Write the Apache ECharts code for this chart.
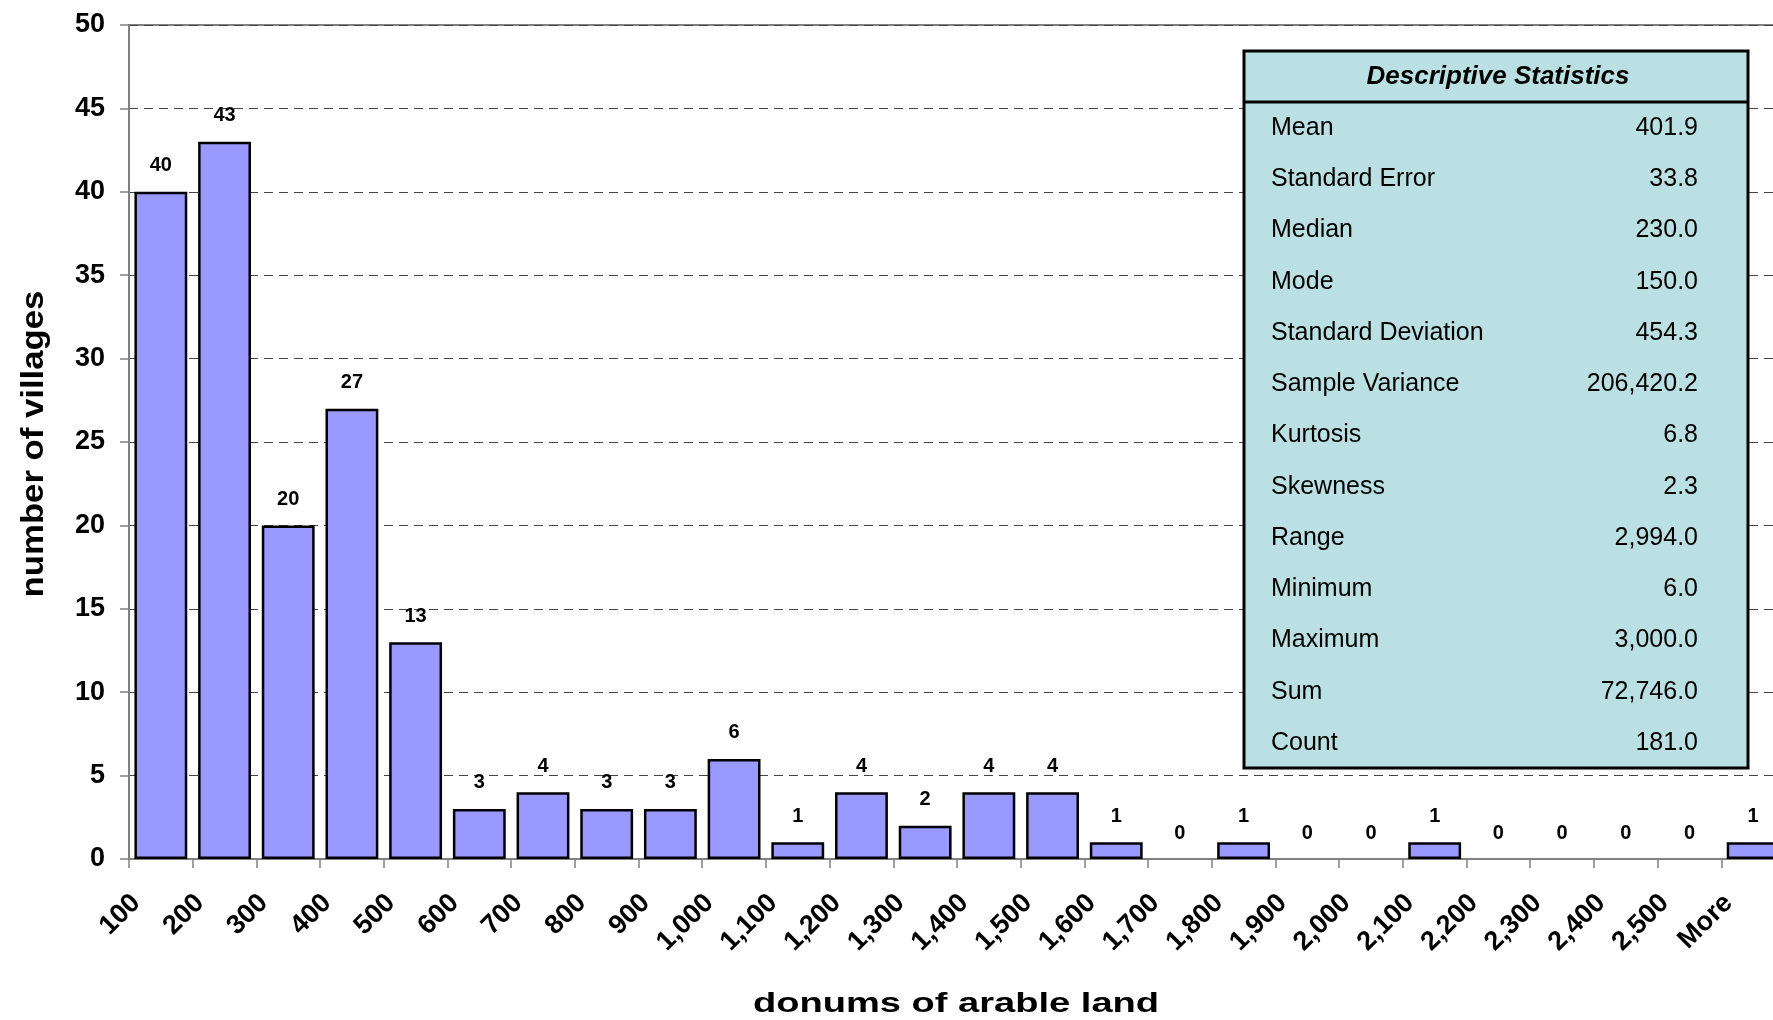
<!DOCTYPE html>
<html>
<head>
<meta charset="utf-8">
<title>donums of arable land</title>
<script src="https://cdn.jsdelivr.net/npm/echarts@6.0.0/dist/echarts.min.js"></script>
<style>
html,body{margin:0;padding:0;background:#fff;}
#main{width:1773px;height:1020px;}
</style>
</head>
<body>
<div id="main"></div>
<script>
// bins (upper limits) and counts of villages
var bins = ['100','200','300','400','500','600','700','800','900','1,000','1,100','1,200','1,300',
	'1,400','1,500','1,600','1,700','1,800','1,900','2,000','2,100','2,200','2,300','2,400','2,500','More'];
var villages = [40,43,20,27,13,3,4,3,3,6,1,4,2,4,4,1,0,1,0,0,1,0,0,0,0,1];

// descriptive statistics box
var statNames = ['Mean','Standard Error','Median','Mode','Standard Deviation','Sample Variance',
	'Kurtosis','Skewness','Range','Minimum','Maximum','Sum','Count'];
var statValues = ['401.9','33.8','230.0','150.0','454.3','206,420.2','6.8','2.3',
	'2,994.0','6.0','3,000.0','72,746.0','181.0'];

var yTicks = {min:0, max:50, interval:5};

var font = 'Liberation Sans, Arial, sans-serif';

// zero bins get no outline (otherwise a black line sits on the axis)
var barData = [];
for (var k = 0; k < villages.length; k++) {
	if (villages[k] === 0) {
		barData.push({value:villages[k], itemStyle:{borderWidth:0}});
	} else {
		barData.push(villages[k]);
	}
}

// table drawn with graphic elements
var tableItems = [];
tableItems.push({
	type:'rect', z:100,
	shape:{x:1244, y:51, width:504, height:717},
	style:{fill:'#bbe0e3', stroke:'#000', lineWidth:3}
});
tableItems.push({
	type:'line', z:101,
	shape:{x1:1244, y1:102, x2:1748, y2:102},
	style:{stroke:'#000', lineWidth:3}
});
tableItems.push({
	type:'text', z:102, x:1498, y:77,
	style:{text:'Descriptive Statistics', fontFamily:font, fontSize:26, fontWeight:'bold', fontStyle:'italic',
		fill:'#000', align:'center', verticalAlign:'middle'}
});
for (var i = 0; i < statNames.length; i++) {
	var yy = 128 + i * 51.25;
	tableItems.push({
		type:'text', z:102, x:1271, y:yy,
		style:{text:statNames[i], fontFamily:font, fontSize:25, fill:'#000', align:'left', verticalAlign:'middle'}
	});
	tableItems.push({
		type:'text', z:102, x:1698, y:yy,
		style:{text:statValues[i], fontFamily:font, fontSize:25, fill:'#000', align:'right', verticalAlign:'middle'}
	});
}
// axis titles (stretched to mimic the spaced lettering)
tableItems.push({
	type:'text', z:102, x:956, y:1004, scaleX:1.36,
	style:{text:'donums of arable land', fontFamily:font, fontSize:28, fontWeight:'bold',
		fill:'#000', align:'center', verticalAlign:'middle'}
});
tableItems.push({
	type:'text', z:102, x:34, y:444, rotation:Math.PI/2, scaleX:1.12,
	style:{text:'number of villages', fontFamily:font, fontSize:31, fontWeight:'bold',
		fill:'#000', align:'center', verticalAlign:'middle'}
});

var option = {
	animation:false,
	backgroundColor:'#fff',
	textStyle:{fontFamily:font},
	grid:{
		left:129, top:25, right:-12, bottom:161,
		outerBoundsMode:'none',
		show:true, borderColor:'#808080', borderWidth:2, backgroundColor:'transparent'
	},
	xAxis:{
		type:'category',
		data:bins,
		axisLine:{lineStyle:{color:'#808080', width:2}},
		axisTick:{show:true, length:9, lineStyle:{color:'#808080', width:1.5}},
		axisLabel:{
			interval:0, rotate:45, margin:15,
			padding:[0,35,0,0],
			fontSize:27, fontWeight:'bold', color:'#000', fontFamily:font
		},
		splitLine:{show:false}
	},
	yAxis:{
		type:'value',
		min:yTicks.min, max:yTicks.max, interval:yTicks.interval,
		axisLine:{show:true, lineStyle:{color:'#808080', width:2}},
		axisTick:{show:true, length:9, lineStyle:{color:'#808080', width:1.5}},
		axisLabel:{margin:24, fontSize:27, fontWeight:'bold', color:'#000', fontFamily:font},
		splitLine:{show:true, lineStyle:{color:'#444', width:1, type:[9,6]}}
	},
	series:[{
		type:'bar',
		data:barData,
		barCategoryGap:'17%',
		itemStyle:{color:'#9999ff', borderColor:'#000', borderWidth:2.5},
		label:{
			show:true, position:'top', distance:16,
			fontSize:20, fontWeight:'bold', color:'#000', fontFamily:font
		}
	}],
	graphic:tableItems
};

var myChart = echarts.init(document.getElementById('main'));
myChart.setOption(option);
</script>
</body>
</html>
